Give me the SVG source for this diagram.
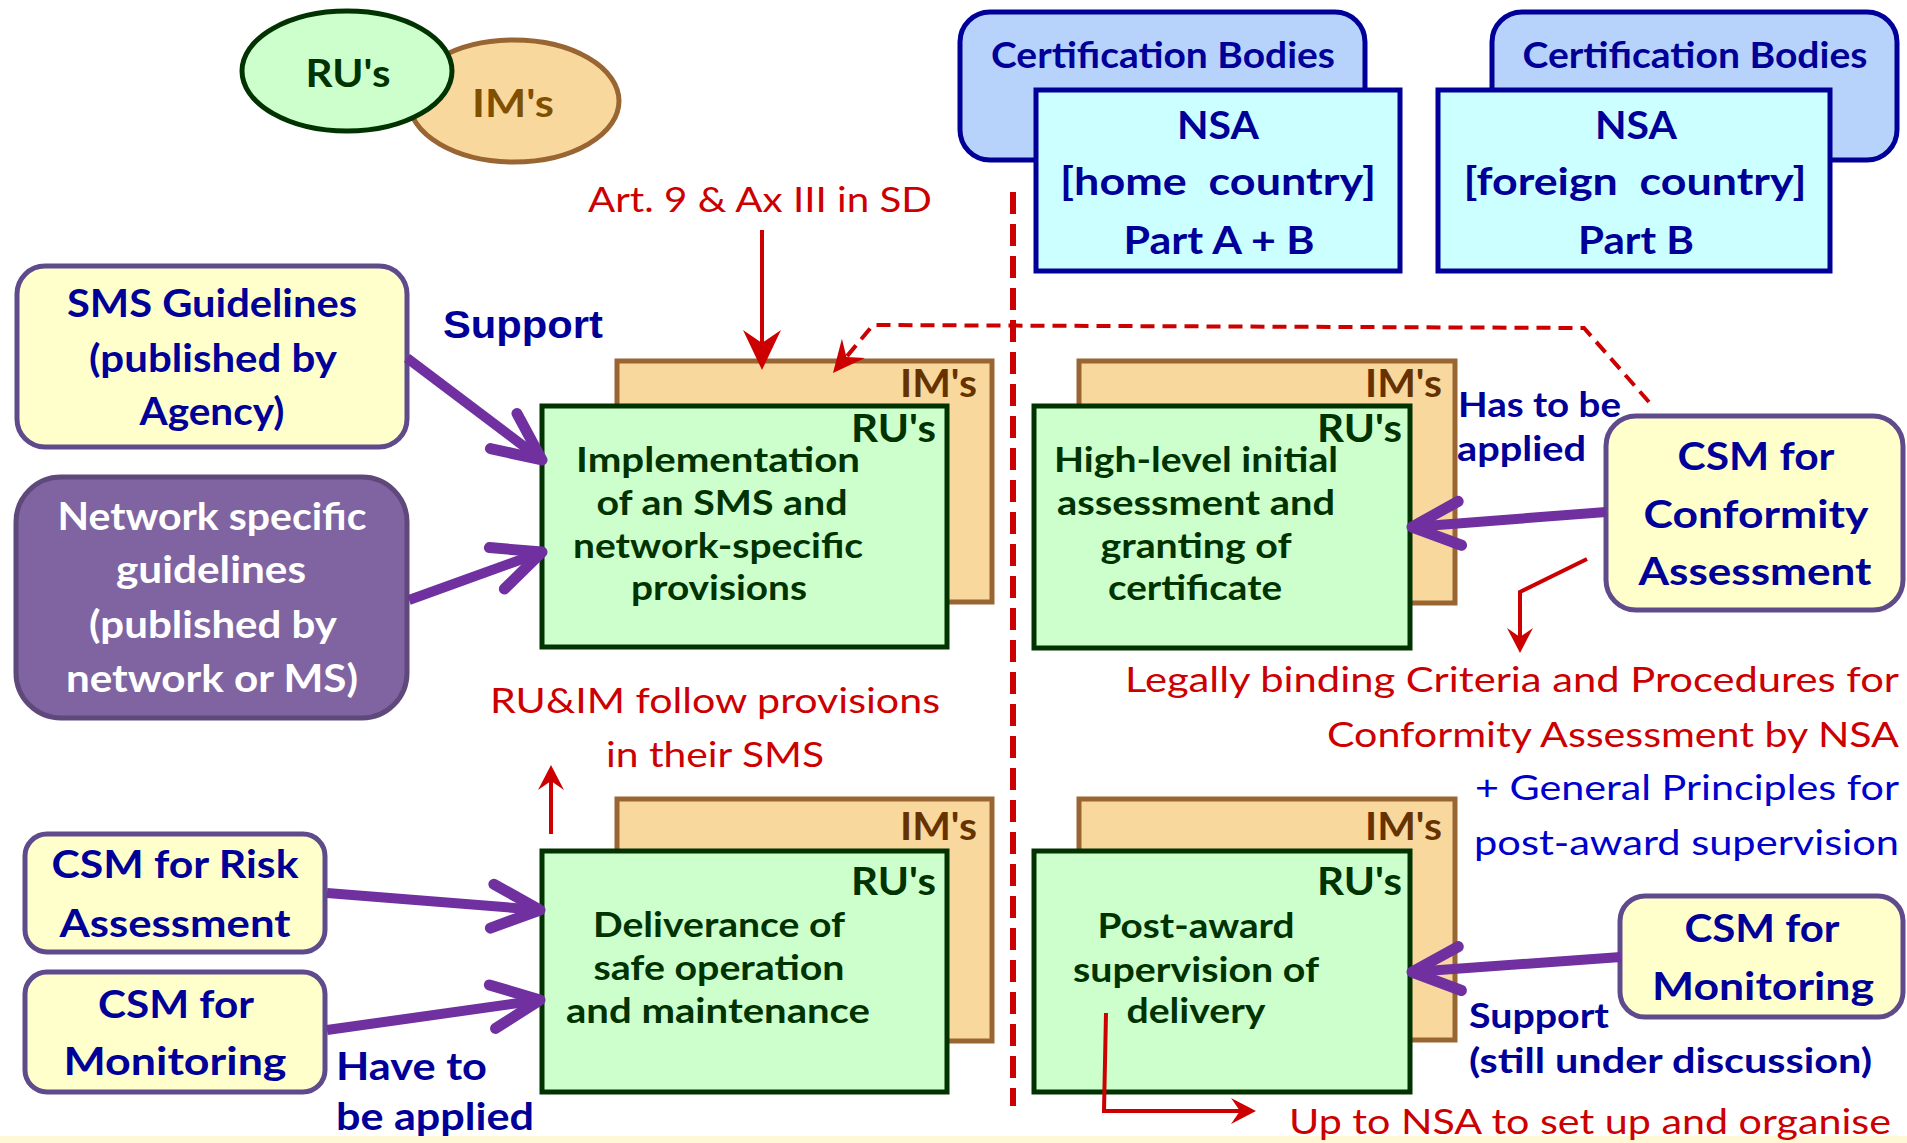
<svg xmlns="http://www.w3.org/2000/svg" width="1907" height="1143" viewBox="0 0 1907 1143">
<defs>
<style>
text{font-family:Lato,"Liberation Sans",sans-serif}
.b{font-weight:700}
.m{text-anchor:middle}
.e{text-anchor:end}
.nv{fill:#000099}
.dg{fill:#003300}
.br{fill:#663300}
.rd{fill:#cc0000}
.bl{fill:#0000cc}
.wh{fill:#ffffff}
.ru{fill:#ccffcc;stroke:#003300;stroke-width:5}
.im{fill:#f9d89e;stroke:#996633;stroke-width:5}
.yb{fill:#ffffcc;stroke:#5f4b8b;stroke-width:5}
.cb{fill:#b7d3fb;stroke:#000099;stroke-width:5}
.ns{fill:#ccffff;stroke:#000099;stroke-width:5}
.pa{stroke:#7030a0;stroke-width:10;fill:none;marker-end:url(#chev)}
.ra{stroke:#cc0000;stroke-width:4;fill:none;stroke-linejoin:miter}
.pre{white-space:pre}
.f34{font-size:34px}
.f36{font-size:36px}
.f38{font-size:38px}
.f39{font-size:39px}
.f35{font-size:35px}
</style>
<marker id="chev" markerUnits="userSpaceOnUse" viewBox="-60 -35 70 70" refX="0" refY="0" markerWidth="70" markerHeight="70" orient="auto" overflow="visible">
<path d="M-48,-22 L0,0 L-48,22" fill="none" stroke="#7030a0" stroke-width="11" stroke-linecap="round" stroke-linejoin="round"/>
</marker>
<marker id="rbig" markerUnits="userSpaceOnUse" viewBox="-45 -25 50 50" refX="-22" refY="0" markerWidth="50" markerHeight="50" orient="auto" overflow="visible">
<path d="M0,0 L-40,-19 L-27,0 L-40,19 Z" fill="#cc0000"/>
</marker>
<marker id="rmed" markerUnits="userSpaceOnUse" viewBox="-35 -20 40 40" refX="-18" refY="0" markerWidth="40" markerHeight="40" orient="auto" overflow="visible">
<path d="M0,0 L-32,-15 L-21,0 L-32,15 Z" fill="#cc0000"/>
</marker>
<marker id="rsm" markerUnits="userSpaceOnUse" viewBox="-30 -15 35 30" refX="-14" refY="0" markerWidth="35" markerHeight="30" orient="auto" overflow="visible">
<path d="M0,0 L-25,-13 L-16,0 L-25,13 Z" fill="#cc0000"/>
</marker>
</defs>
<rect x="0" y="0" width="1907" height="1143" fill="#ffffff"/>
<rect x="0" y="1136" width="1907" height="7" fill="#fff8d6"/>

<g id="legend">
<ellipse cx="514" cy="101" rx="105" ry="61" fill="#f9d89e" stroke="#996633" stroke-width="5"/>
<text x="513" y="117" class="b m br f39" textLength="82" lengthAdjust="spacingAndGlyphs" style="fill:#7f5000">IM's</text>
<ellipse cx="347" cy="71" rx="105" ry="60" fill="#ccffcc" stroke="#003300" stroke-width="5"/>
<text x="348" y="87" class="b m dg f39" textLength="85" lengthAdjust="spacingAndGlyphs">RU's</text>
</g>

<g id="cert-home">
<rect x="960" y="12" width="405" height="148" rx="30" class="cb"/>
<text x="1163" y="68" class="b m nv f36" textLength="344" lengthAdjust="spacingAndGlyphs">Certification Bodies</text>
</g>
<g id="nsa-home">
<rect x="1036" y="90" width="364" height="181" class="ns"/>
<text x="1218" y="139" class="b m nv f38" textLength="82" lengthAdjust="spacingAndGlyphs">NSA</text>
<text x="1218" y="195" class="b m nv f38 pre" textLength="316" lengthAdjust="spacingAndGlyphs">[home  country]</text>
<text x="1219" y="254" class="b m nv f38" textLength="191" lengthAdjust="spacingAndGlyphs">Part A + B</text>
</g>
<g id="cert-foreign">
<rect x="1492" y="12" width="405" height="148" rx="30" class="cb"/>
<text x="1695" y="68" class="b m nv f36" textLength="345" lengthAdjust="spacingAndGlyphs">Certification Bodies</text>
</g>
<g id="nsa-foreign">
<rect x="1438" y="90" width="392" height="181" class="ns"/>
<text x="1636" y="139" class="b m nv f38" textLength="82" lengthAdjust="spacingAndGlyphs">NSA</text>
<text x="1635" y="195" class="b m nv f38 pre" textLength="343" lengthAdjust="spacingAndGlyphs">[foreign  country]</text>
<text x="1636" y="254" class="b m nv f38" textLength="116" lengthAdjust="spacingAndGlyphs">Part B</text>
</g>

<g id="sms-guidelines">
<rect x="17" y="266" width="390" height="181" rx="28" class="yb"/>
<text x="212" y="317" class="b m nv f39" textLength="290" lengthAdjust="spacingAndGlyphs">SMS Guidelines</text>
<text x="213" y="372" class="b m nv f39" textLength="248" lengthAdjust="spacingAndGlyphs">(published by</text>
<text x="212" y="425" class="b m nv f39" textLength="145" lengthAdjust="spacingAndGlyphs">Agency)</text>
</g>
<g id="network-guidelines">
<rect x="16" y="477" width="391" height="241" rx="45" fill="#8064a2" stroke="#5f497a" stroke-width="5"/>
<text x="212" y="530" class="b m wh f38" textLength="309" lengthAdjust="spacingAndGlyphs">Network specific</text>
<text x="211" y="583" class="b m wh f38" textLength="190" lengthAdjust="spacingAndGlyphs">guidelines</text>
<text x="213" y="638" class="b m wh f38" textLength="248" lengthAdjust="spacingAndGlyphs">(published by</text>
<text x="212" y="692" class="b m wh f38" textLength="292" lengthAdjust="spacingAndGlyphs">network or MS)</text>
</g>
<g id="csm-risk">
<rect x="25" y="834" width="300" height="118" rx="22" class="yb"/>
<text x="175" y="878" class="b m nv f39" textLength="247" lengthAdjust="spacingAndGlyphs">CSM for Risk</text>
<text x="175" y="937" class="b m nv f39" textLength="231" lengthAdjust="spacingAndGlyphs">Assessment</text>
</g>
<g id="csm-monitoring-left">
<rect x="25" y="972" width="300" height="120" rx="22" class="yb"/>
<text x="176" y="1018" class="b m nv f39" textLength="156" lengthAdjust="spacingAndGlyphs">CSM for</text>
<text x="175" y="1075" class="b m nv f39" textLength="223" lengthAdjust="spacingAndGlyphs">Monitoring</text>
</g>
<g id="csm-conformity">
<rect x="1606" y="416" width="297" height="194" rx="30" class="yb"/>
<text x="1756" y="470" class="b m nv f39" textLength="157" lengthAdjust="spacingAndGlyphs">CSM for</text>
<text x="1756" y="528" class="b m nv f39" textLength="225" lengthAdjust="spacingAndGlyphs">Conformity</text>
<text x="1755" y="585" class="b m nv f39" textLength="233" lengthAdjust="spacingAndGlyphs">Assessment</text>
</g>
<g id="csm-monitoring-right">
<rect x="1620" y="896" width="283" height="121" rx="25" class="yb"/>
<text x="1762" y="942" class="b m nv f39" textLength="155" lengthAdjust="spacingAndGlyphs">CSM for</text>
<text x="1763" y="1000" class="b m nv f39" textLength="222" lengthAdjust="spacingAndGlyphs">Monitoring</text>
</g>

<g id="implementation">
<rect x="617" y="361" width="375" height="241" class="im"/>
<text x="977" y="397" class="b e br f39" textLength="77" lengthAdjust="spacingAndGlyphs">IM's</text>
<rect x="542" y="406" width="405" height="241" class="ru"/>
<text x="936" y="442" class="b e dg f39" textLength="85" lengthAdjust="spacingAndGlyphs">RU's</text>
<text x="718" y="472" class="b m dg f34" textLength="284" lengthAdjust="spacingAndGlyphs">Implementation</text>
<text x="722" y="515" class="b m dg f34" textLength="251" lengthAdjust="spacingAndGlyphs">of an SMS and</text>
<text x="718" y="558" class="b m dg f34" textLength="290" lengthAdjust="spacingAndGlyphs">network-specific</text>
<text x="719" y="600" class="b m dg f34" textLength="176" lengthAdjust="spacingAndGlyphs">provisions</text>
</g>
<g id="initial-assessment">
<rect x="1079" y="361" width="376" height="242" class="im"/>
<text x="1442" y="397" class="b e br f39" textLength="77" lengthAdjust="spacingAndGlyphs">IM's</text>
<rect x="1034" y="406" width="376" height="242" class="ru"/>
<text x="1402" y="442" class="b e dg f39" textLength="85" lengthAdjust="spacingAndGlyphs">RU's</text>
<text x="1196" y="472" class="b m dg f34" textLength="284" lengthAdjust="spacingAndGlyphs">High-level initial</text>
<text x="1196" y="515" class="b m dg f34" textLength="278" lengthAdjust="spacingAndGlyphs">assessment and</text>
<text x="1196" y="558" class="b m dg f34" textLength="191" lengthAdjust="spacingAndGlyphs">granting of</text>
<text x="1195" y="600" class="b m dg f34" textLength="174" lengthAdjust="spacingAndGlyphs">certificate</text>
</g>
<g id="deliverance">
<rect x="617" y="799" width="375" height="242" class="im"/>
<text x="977" y="840" class="b e br f39" textLength="77" lengthAdjust="spacingAndGlyphs">IM's</text>
<rect x="542" y="851" width="405" height="241" class="ru"/>
<text x="936" y="895" class="b e dg f39" textLength="85" lengthAdjust="spacingAndGlyphs">RU's</text>
<text x="719" y="937" class="b m dg f34" textLength="252" lengthAdjust="spacingAndGlyphs">Deliverance of</text>
<text x="719" y="980" class="b m dg f34" textLength="251" lengthAdjust="spacingAndGlyphs">safe operation</text>
<text x="718" y="1023" class="b m dg f34" textLength="304" lengthAdjust="spacingAndGlyphs">and maintenance</text>
</g>
<g id="post-award">
<rect x="1079" y="799" width="376" height="241" class="im"/>
<text x="1442" y="840" class="b e br f39" textLength="77" lengthAdjust="spacingAndGlyphs">IM's</text>
<rect x="1034" y="851" width="376" height="241" class="ru"/>
<text x="1402" y="895" class="b e dg f39" textLength="85" lengthAdjust="spacingAndGlyphs">RU's</text>
<text x="1196" y="938" class="b m dg f34" textLength="197" lengthAdjust="spacingAndGlyphs">Post-award</text>
<text x="1196" y="982" class="b m dg f34" textLength="246" lengthAdjust="spacingAndGlyphs">supervision of</text>
<text x="1196" y="1023" class="b m dg f34" textLength="139" lengthAdjust="spacingAndGlyphs">delivery</text>
</g>

<g id="connectors">
<line x1="1013" y1="192" x2="1013" y2="1106" stroke="#cc0000" stroke-width="6" stroke-dasharray="22,10"/>
<path d="M1649,402 L1584,328 L873,325 L844.5,359.2" class="ra" stroke-dasharray="14,8" marker-end="url(#rmed)"/>
<path d="M762,230 L762,348" class="ra" stroke-width="6" marker-end="url(#rbig)"/>
<path d="M551,834 L551,779" class="ra" marker-end="url(#rsm)"/>
<path d="M1587,559 L1520,592 L1520,639" class="ra" marker-end="url(#rsm)"/>
<path d="M1106,1013 L1104,1111 L1242,1111" class="ra" marker-end="url(#rsm)"/>
<path d="M407,358 L542,460" class="pa"/>
<path d="M409,600 L542,552" class="pa"/>
<path d="M327,893 L540,910" class="pa"/>
<path d="M327,1030 L540,1000" class="pa"/>
<path d="M1606,512 L1412,527" class="pa"/>
<path d="M1621,957 L1412,972" class="pa"/>
</g>

<g id="labels">
<text x="443" y="338" class="nv" style="font-family:'Liberation Sans',Arial,sans-serif;font-weight:700;font-size:39px" textLength="160" lengthAdjust="spacingAndGlyphs">Support</text>
<text x="1458" y="417" class="b nv f35" textLength="163" lengthAdjust="spacingAndGlyphs">Has to be</text>
<text x="1457" y="461" class="b nv f35" textLength="129" lengthAdjust="spacingAndGlyphs">applied</text>
<text x="336" y="1080" class="b nv f38" textLength="151" lengthAdjust="spacingAndGlyphs">Have to</text>
<text x="336" y="1130" class="b nv f38" textLength="198" lengthAdjust="spacingAndGlyphs">be applied</text>
<text x="1469" y="1028" class="b nv f35" textLength="140" lengthAdjust="spacingAndGlyphs">Support</text>
<text x="1469" y="1073" class="b nv f35" textLength="403" lengthAdjust="spacingAndGlyphs">(still under discussion)</text>
<text x="760" y="212" class="m rd f35" textLength="344" lengthAdjust="spacingAndGlyphs">Art. 9 &amp; Ax III in SD</text>
<text x="715" y="713" class="m rd f35" textLength="450" lengthAdjust="spacingAndGlyphs">RU&amp;IM follow provisions</text>
<text x="715" y="767" class="m rd f35" textLength="218" lengthAdjust="spacingAndGlyphs">in their SMS</text>
<text x="1899" y="692" class="e rd f35" textLength="774" lengthAdjust="spacingAndGlyphs">Legally binding Criteria and Procedures for</text>
<text x="1899" y="747" class="e rd f35" textLength="572" lengthAdjust="spacingAndGlyphs">Conformity Assessment by NSA</text>
<text x="1899" y="800" class="e bl f35" textLength="424" lengthAdjust="spacingAndGlyphs">+ General Principles for</text>
<text x="1899" y="855" class="e bl f35" textLength="425" lengthAdjust="spacingAndGlyphs">post-award supervision</text>
<text x="1891" y="1134" class="e rd f35" textLength="602" lengthAdjust="spacingAndGlyphs">Up to NSA to set up and organise</text>
</g>
</svg>
